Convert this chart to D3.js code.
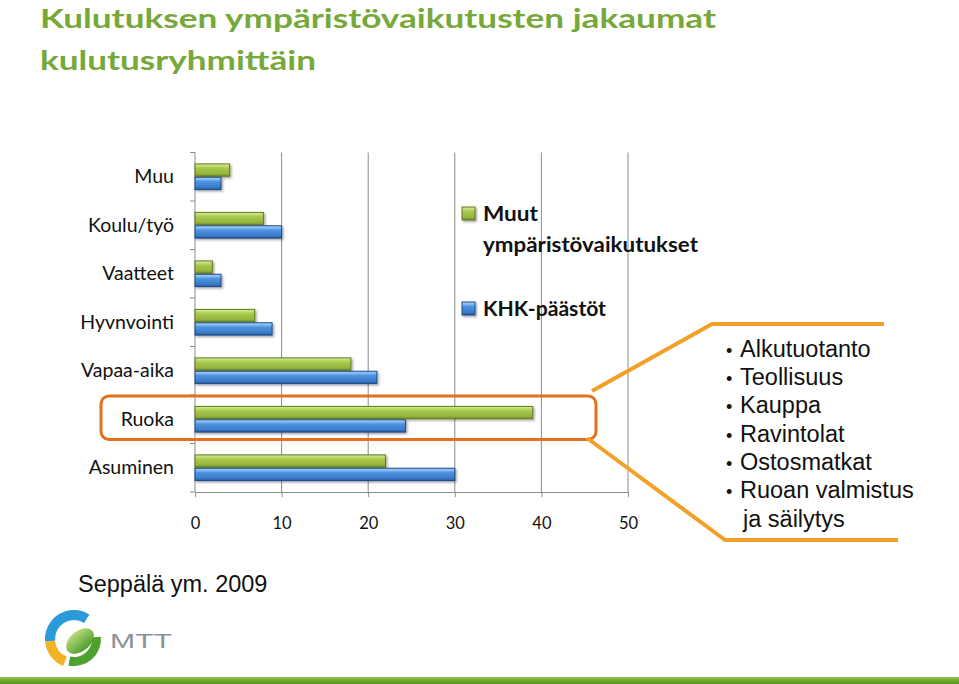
<!DOCTYPE html>
<html>
<head>
<meta charset="utf-8">
<script src="https://cdn.jsdelivr.net/npm/d3@7"></script>
<style>
  html, body { margin: 0; padding: 0; background: #fff; }
  svg { display: block; }
</style>
</head>
<body>
<svg id="chart" width="959" height="684"></svg>
<script>
// ---------- data ----------
const categories = ["Muu", "Koulu/työ", "Vaatteet", "Hyvnvointi", "Vapaa-aika", "Ruoka", "Asuminen"];
const muutValues = [4, 7.9, 2, 6.9, 18, 39, 22];      // Muut ympäristövaikutukset (green)
const khkValues  = [3, 10, 3, 8.9, 21, 24.3, 30];     // KHK-päästöt (blue)
const seriesNames = ["Muut ympäristövaikutukset", "KHK-päästöt"];
const xTicks = [0, 10, 20, 30, 40, 50];
const titleLines = ["Kulutuksen ympäristövaikutusten jakaumat", "kulutusryhmittäin"];
const calloutItems = ["Alkutuotanto", "Teollisuus", "Kauppa", "Ravintolat", "Ostosmatkat", "Ruoan valmistus", "ja säilytys"];
const sourceText = "Seppälä ym. 2009";

// ---------- setup ----------
const svg = d3.select("#chart");
const defs = svg.append("defs");

function vGrad(id, stops) {
  const g = defs.append("linearGradient").attr("id", id)
    .attr("x1", 0).attr("y1", 0).attr("x2", 0).attr("y2", 1);
  stops.forEach(([o, c]) => g.append("stop").attr("offset", o).attr("stop-color", c));
}
vGrad("gGreen", [[0, "#d9eb9a"], [0.18, "#c2dc6e"], [0.35, "#a8c84e"], [0.8, "#93b53c"], [1, "#6e8c25"]]);
vGrad("gBlue",  [[0, "#a8d4fb"], [0.18, "#7fbaf2"], [0.35, "#4f93df"], [0.8, "#3b7bcb"], [1, "#24579a"]]);
vGrad("gBar",   [[0, "#8fc456"], [0.5, "#6cab2e"], [1, "#5a9724"]]);
vGrad("gLeaf",  [[0, "#b9dc7e"], [1, "#4f9d2c"]]);

const f = defs.append("filter").attr("id", "shadow").attr("x", "-10%").attr("y", "-30%").attr("width", "130%").attr("height", "180%");
f.append("feDropShadow").attr("dx", 1.5).attr("dy", 1.5).attr("stdDeviation", 1).attr("flood-color", "#000").attr("flood-opacity", 0.35);

// ---------- title ----------
const titleG = svg.append("g");
titleLines.forEach((t, i) => {
  titleG.append("text")
    .attr("x", 40).attr("y", 28 + i * 42)
    .attr("font-family", "Lato, 'Open Sans', sans-serif")
    .attr("font-weight", "bold").attr("font-size", 27.5)
    .attr("fill", "#77a83a")
    .attr("textLength", i === 0 ? 676 : 276)
    .attr("lengthAdjust", "spacingAndGlyphs")
    .text(t);
});

// ---------- scales ----------
const x = d3.scaleLinear().domain([0, 50]).range([195, 628]);
const y = d3.scaleBand().domain(categories).range([152.5, 492]).paddingInner(0.45).paddingOuter(0.225);
const sub = d3.scaleBand().domain(seriesNames).range([0, y.bandwidth()]);

const plotTop = 152.5, plotBottom = 492;

// gridlines
svg.append("g").selectAll("line").data(xTicks.filter(d => d > 0)).join("line")
  .attr("x1", d => x(d)).attr("x2", d => x(d))
  .attr("y1", plotTop).attr("y2", plotBottom)
  .attr("stroke", "#8c8c8c").attr("stroke-width", 1);

// x axis
const xAxis = svg.append("g").attr("transform", `translate(0,${plotBottom})`)
  .call(d3.axisBottom(x).tickValues(xTicks).tickSize(5).tickPadding(20).tickSizeOuter(0));
xAxis.select(".domain").attr("stroke", "#8c8c8c");
xAxis.selectAll(".tick line").attr("stroke", "#8c8c8c");
xAxis.selectAll(".tick text")
  .attr("font-family", "Lato, 'Open Sans', sans-serif").attr("font-size", 16.5).attr("fill", "#111");

// y axis (labels at band centers, ticks at category boundaries)
const yAxis = svg.append("g").attr("transform", `translate(${x(0)},0)`)
  .call(d3.axisLeft(y).tickSize(0).tickPadding(21));
yAxis.select(".domain").remove();
yAxis.selectAll(".tick text")
  .attr("font-family", "Lato, 'Open Sans', sans-serif").attr("font-size", 19.5).attr("fill", "#111");
const boundaries = d3.range(categories.length + 1).map(i => y.range()[0] + i * y.step());
svg.append("line").attr("x1", x(0)).attr("x2", x(0)).attr("y1", plotTop).attr("y2", plotBottom)
  .attr("stroke", "#8c8c8c");
svg.append("g").selectAll("line").data(boundaries).join("line")
  .attr("x1", x(0) - 5).attr("x2", x(0)).attr("y1", d => d).attr("y2", d => d)
  .attr("stroke", "#8c8c8c");

// ---------- bars ----------
const rows = categories.map((c, i) => ({ c, vals: [muutValues[i], khkValues[i]] }));
const fills = ["url(#gGreen)", "url(#gBlue)"];
const strokes = ["#5e7a22", "#1f4a85"];
const groups = svg.append("g").selectAll("g").data(rows).join("g")
  .attr("transform", d => `translate(0,${y(d.c)})`);
groups.selectAll("rect").data(d => d.vals.map((v, k) => ({ v, k }))).join("rect")
  .attr("x", x(0))
  .attr("y", d => sub(seriesNames[d.k]) + 0.5)
  .attr("width", d => x(d.v) - x(0))
  .attr("height", sub.bandwidth() - 1)
  .attr("fill", d => fills[d.k])
  .attr("stroke", d => strokes[d.k]).attr("stroke-width", 1)
  .attr("filter", "url(#shadow)");

// ---------- legend ----------
const legend = svg.append("g").attr("font-family", "Lato, 'Open Sans', sans-serif")
  .attr("font-weight", "bold").attr("font-size", 20).attr("fill", "#111");
const legendRows = [
  { name: seriesNames[0], y: 207, lines: ["Muut", "ympäristövaikutukset"], lens: [55, 215] },
  { name: seriesNames[1], y: 302, lines: ["KHK-päästöt"], lens: [123] }
];
legendRows.forEach((r, k) => {
  legend.append("rect").attr("x", 462).attr("y", r.y).attr("width", 13).attr("height", 13)
    .attr("fill", fills[k]).attr("stroke", strokes[k]).attr("filter", "url(#shadow)");
  r.lines.forEach((t, j) => {
    legend.append("text").attr("x", 483).attr("y", r.y + 14 + j * 31)
      .attr("textLength", r.lens[j]).attr("lengthAdjust", "spacingAndGlyphs").text(t);
  });
});

// ---------- highlight around "Ruoka" ----------
svg.append("rect")
  .attr("x", 101).attr("y", y("Ruoka") - 10).attr("width", 495).attr("height", 43.5)
  .attr("rx", 8).attr("ry", 8)
  .attr("fill", "none").attr("stroke", "#e2701c").attr("stroke-width", 3);

// callout lines
const callout = svg.append("g").attr("fill", "none").attr("stroke", "#f2a027").attr("stroke-width", 4)
  .attr("stroke-linejoin", "round");
callout.append("path").attr("d", d3.line()([[592, 391], [712, 324], [884, 324]]));
callout.append("path").attr("d", d3.line()([[587, 438], [725, 540], [898, 540]]));

// callout list
const list = svg.append("g").attr("font-family", "'Liberation Sans', Arial, sans-serif")
  .attr("font-size", 23.5).attr("fill", "#111");
calloutItems.forEach((t, i) => {
  const by = 356.7 + i * 28.3;
  if (i < calloutItems.length - 1) {
    list.append("text").attr("x", 726).attr("y", by).attr("font-size", 18).text("•");
    list.append("text").attr("x", 740).attr("y", by).text(t);
  } else {
    list.append("text").attr("x", 743).attr("y", by).text(t);
  }
});

// ---------- source ----------
svg.append("text").attr("x", 78).attr("y", 592)
  .attr("font-family", "'Liberation Sans', Arial, sans-serif").attr("font-size", 23.5).attr("fill", "#111")
  .text(sourceText);

// ---------- logo ----------
const logo = svg.append("g").attr("transform", "translate(74,639)");
const arc = d3.arc();
logo.append("path").attr("d", arc({ innerRadius: 19, outerRadius: 29, startAngle: -95 * Math.PI / 180, endAngle: 32 * Math.PI / 180 })).attr("fill", "#2b9ad8");
logo.append("path").attr("d", arc({ innerRadius: 19, outerRadius: 29, startAngle: -158 * Math.PI / 180, endAngle: -95 * Math.PI / 180 })).attr("fill", "#f4b324");
logo.append("path").attr("d", arc({ innerRadius: 18, outerRadius: 27, startAngle: 85 * Math.PI / 180, endAngle: 192 * Math.PI / 180 })).attr("fill", "#4fa12f");
logo.append("ellipse").attr("cx", 6).attr("cy", 2).attr("rx", 16).attr("ry", 10)
  .attr("transform", "rotate(-40 6 2)").attr("fill", "url(#gLeaf)");
svg.append("text").attr("x", 110).attr("y", 648)
  .attr("font-family", "'Liberation Sans', Arial, sans-serif").attr("font-size", 21).attr("fill", "#8d9297")
  .attr("textLength", 62).attr("lengthAdjust", "spacingAndGlyphs").text("MTT");

// bottom band
svg.append("rect").attr("x", 0).attr("y", 677).attr("width", 959).attr("height", 7).attr("fill", "url(#gBar)");
</script>
</body>
</html>
